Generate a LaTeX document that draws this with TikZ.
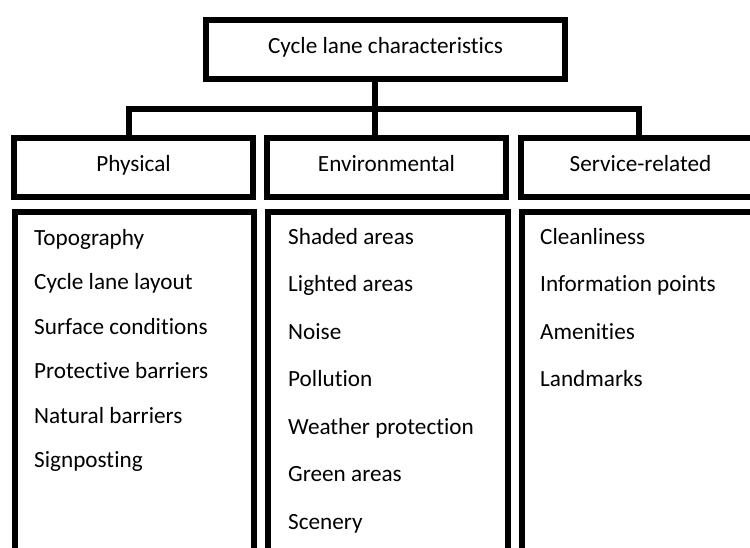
\documentclass[tikz,border=0pt]{standalone}
\usepackage{fontspec}
\setmainfont[Ligatures=NoCommon]{Carlito}
\begin{document}
\begin{tikzpicture}[x=1pt,y=-1pt,line join=miter,
  box/.style={draw=black,line width=6pt,fill=white,inner sep=0pt,text height=15pt,text depth=7pt,font=\fontsize{23.2}{27}\selectfont},
  item/.style={anchor=base west,inner sep=0pt,font=\fontsize{23.2}{27}\selectfont},
  link/.style={draw=black,line width=6pt}]
\useasboundingbox (0,0) rectangle (750,547);
\clip (0,0) rectangle (750,547);
% title and headers
\node[box,minimum width=359pt,minimum height=59pt] (title) at (385.5,49.5) {Cycle lane characteristics};
\node[box,minimum width=239pt,minimum height=59pt] (physh) at (133.5,167.5) {Physical};
\node[box,minimum width=239pt,minimum height=59pt] (envh) at (386.5,167.5) {Environmental};
\node[box,minimum width=239pt,minimum height=59pt] (servh) at (640.5,167.5) {Service-related};
% lower boxes (open at the bottom edge of the picture)
\node[box,minimum width=239pt,minimum height=400pt] (physl) at (134.5,412) {};
\node[box,minimum width=240pt,minimum height=400pt] (envl) at (388,412) {};
\node[box,minimum width=239pt,minimum height=400pt] (servl) at (641.5,412) {};
% connectors
\coordinate (bus) at (375,108.5);
\coordinate (dl) at (129,0);
\coordinate (dr) at (639,0);
\draw[link] (title.south -| bus) -- (envh.north -| bus);
\draw[link] (physh.north -| dl) |- (bus) -| (servh.north -| dr);
% items
\foreach \t [count=\i from 0] in {Topography,Cycle lane layout,Surface conditions,Protective barriers,Natural barriers,Signposting}
  \node[item] (p\i) at (34,245+44.5*\i) {\t};
\foreach \t [count=\i from 0] in {Shaded areas,Lighted areas,Noise,Pollution,Weather protection,Green areas,Scenery}
  \node[item] (e\i) at (288,244+47.5*\i) {\t};
\foreach \t [count=\i from 0] in {Cleanliness,Information points,Amenities,Landmarks}
  \node[item] (s\i) at (540,244+47.5*\i) {\t};
\end{tikzpicture}
\end{document}
